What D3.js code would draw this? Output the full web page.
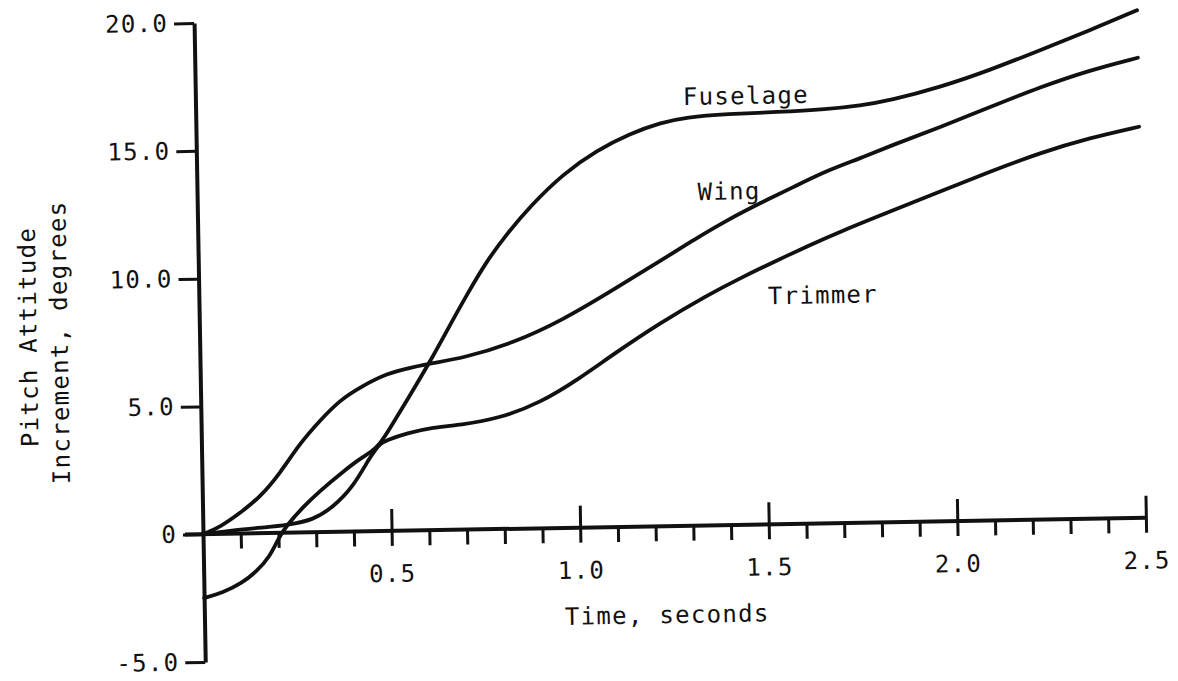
<!DOCTYPE html>
<html>
<head>
<meta charset="utf-8">
<script src="https://cdn.jsdelivr.net/npm/d3@7"></script>
<style>
  body { margin: 0; background: #fff; }
  text { font-family: "DejaVu Sans Mono", monospace; font-size: 24px; letter-spacing: 1.3px; fill: #111; }
  .axis path, .axis line, .baseline { stroke: #111; fill: none; }
  .axis .domain, .baseline { stroke-width: 4; }
  .axis .tick line { stroke-width: 3; }
  .curve { fill: none; stroke: #111; stroke-width: 3.8; stroke-linejoin: round; stroke-linecap: round; }
</style>
</head>
<body>
<script>
/* pitch attitude increment (degrees) against time (s) */
var fuselage = [[0, -2.5], [0.05, -2.3], [0.10, -1.95], [0.14, -1.5], [0.175, -0.95],
  [0.2, -0.2], [0.223, 0.3], [0.266, 0.99], [0.312, 1.62], [0.374, 2.35], [0.42, 2.85],
  [0.45, 3.1], [0.473, 3.4], [0.5, 4.0], [0.547, 5.1], [0.618, 6.8], [0.66, 7.9], [0.711, 9.2],
  [0.765, 10.5], [0.82, 11.55], [0.882, 12.6], [0.971, 13.85], [1.062, 14.75], [1.151, 15.38],
  [1.231, 15.78], [1.3, 15.98], [1.409, 16.08], [1.541, 16.12], [1.674, 16.2], [1.762, 16.32],
  [1.841, 16.5], [1.974, 16.98], [2.108, 17.62], [2.241, 18.36], [2.375, 19.11], [2.5, 19.86]]

var wing = [[0, 0], [0.045, 0.26], [0.099, 0.8], [0.153, 1.41], [0.207, 2.33], [0.261, 3.49],
  [0.316, 4.38], [0.369, 5.15], [0.423, 5.64], [0.495, 6.17], [0.564, 6.39], [0.61, 6.53],
  [0.697, 6.71], [0.831, 7.26], [0.964, 8.13], [1.098, 9.27], [1.224, 10.37], [1.313, 11.17],
  [1.404, 11.93], [1.492, 12.57], [1.58, 13.17], [1.671, 13.8], [1.759, 14.25], [1.839, 14.72],
  [1.973, 15.42], [2.106, 16.17], [2.24, 16.92], [2.373, 17.55], [2.5, 18.0]]

var trimmer = [[0, 0], [0.08, 0.14], [0.17, 0.23], [0.223, 0.3], [0.292, 0.47], [0.346, 0.97],
  [0.4, 1.74], [0.446, 2.9], [0.462, 3.2], [0.473, 3.4], [0.49, 3.55], [0.545, 3.81],
  [0.615, 4.03], [0.686, 4.09], [0.793, 4.34], [0.899, 4.9], [1.007, 5.85], [1.095, 6.75],
  [1.221, 7.95], [1.347, 9.0], [1.436, 9.65], [1.524, 10.25], [1.615, 10.85], [1.703, 11.4],
  [1.836, 12.15], [1.97, 12.9], [2.103, 13.65], [2.237, 14.35], [2.37, 14.9], [2.5, 15.3]]

var seriesNames = ["Fuselage", "Wing", "Trimmer"]
/* where each name sits, in data units (left end of the baseline) */
var seriesLabelAt = [[1.292, 16.46], [1.327, 12.73], [1.508, 8.61]]

var xMajorTicks = [0.5, 1.0, 1.5, 2.0, 2.5]
var xMinorTicks = d3.range(1, 25).filter(function(i) { return i % 5 != 0 }).map(function(i) { return i / 10 })
var yTicks = [-5, 0, 5, 10, 15, 20]


function main()
{
  var svg = d3.select("body")
    .append("svg")
    .attr("width", 1178)
    .attr("height", 681)

  svg.append("rect")
    .attr("width", 1178)
    .attr("height", 681)
    .attr("fill", "#fff")

  /* the scanned page sits about a degree off square, so the whole plot turns with it */
  var plot = svg.append("g")
    .attr("transform", "rotate(-1, 203, 534)")

  var x = d3.scaleLinear().domain([0, 2.5]).range([203, 1146])
  var y = d3.scaleLinear().domain([-5, 20]).range([662, 23])

  addAxes(plot, x, y)
  addCurves(plot, x, y)
  addTitles(plot, x, y)
}


function addAxes(plot, x, y)
{
  var yAxis = d3.axisLeft(y)
    .tickValues(yTicks)
    .tickSize(20)
    .tickSizeOuter(0)
    .tickPadding(6)
    .tickFormat(function(d) { return d === 0 ? "0" : d.toFixed(1) })

  plot.append("g")
    .attr("class", "axis")
    .attr("transform", "translate(" + x(0) + ",0)")
    .call(yAxis)

  /* small ticks every 0.1 s, hanging below the time axis */
  var xMinor = d3.axisBottom(x)
    .tickValues(xMinorTicks)
    .tickSize(15)
    .tickFormat("")

  plot.append("g")
    .attr("class", "axis")
    .attr("transform", "translate(0," + y(0) + ")")
    .call(xMinor)
    .select(".domain").remove()

  var xAxis = d3.axisBottom(x)
    .tickValues(xMajorTicks)
    .tickSize(15)
    .tickPadding(19)
    .tickFormat(d3.format(".1f"))

  var gx = plot.append("g")
    .attr("class", "axis")
    .attr("transform", "translate(0," + y(0) + ")")
    .call(xAxis)

  gx.select(".domain").remove()

  /* major ticks cross the axis line */
  gx.selectAll(".tick line")
    .attr("y1", -22)

  /* the zero line pokes out left of the y axis as its 0 tick */
  gx.append("line")
    .attr("class", "baseline")
    .attr("x1", x(0) - 18)
    .attr("x2", x(2.5))
    .attr("y1", 0)
    .attr("y2", 0)
}


function addCurves(plot, x, y)
{
  // basis smooths out the reading noise, the pen traces are smooth
  var line = d3.line()
    .x(function(d) { return x(d[0]) })
    .y(function(d) { return y(d[1]) })
    .curve(d3.curveBasis)

  plot.append("g")
    .selectAll("path")
    .data([fuselage, wing, trimmer])
    .enter()
    .append("path")
    .attr("class", "curve")
    .attr("d", line)

  plot.append("g")
    .selectAll("text")
    .data(seriesNames)
    .enter()
    .append("text")
    .attr("x", function(d, i) { return x(seriesLabelAt[i][0]) })
    .attr("y", function(d, i) { return y(seriesLabelAt[i][1]) })
    .text(function(d) { return d })
}


function addTitles(plot, x, y)
{
  plot.append("text")
    .attr("x", x(1.227))
    .attr("y", y(0) + 97)
    .attr("text-anchor", "middle")
    .text("Time, seconds")

  plot.append("text")
    .attr("transform", "translate(40,334) rotate(-90)")
    .attr("text-anchor", "middle")
    .text("Pitch Attitude")

  plot.append("text")
    .attr("transform", "translate(71,340) rotate(-90)")
    .attr("text-anchor", "middle")
    .text("Increment, degrees")
}

main()
</script>
</body>
</html>
